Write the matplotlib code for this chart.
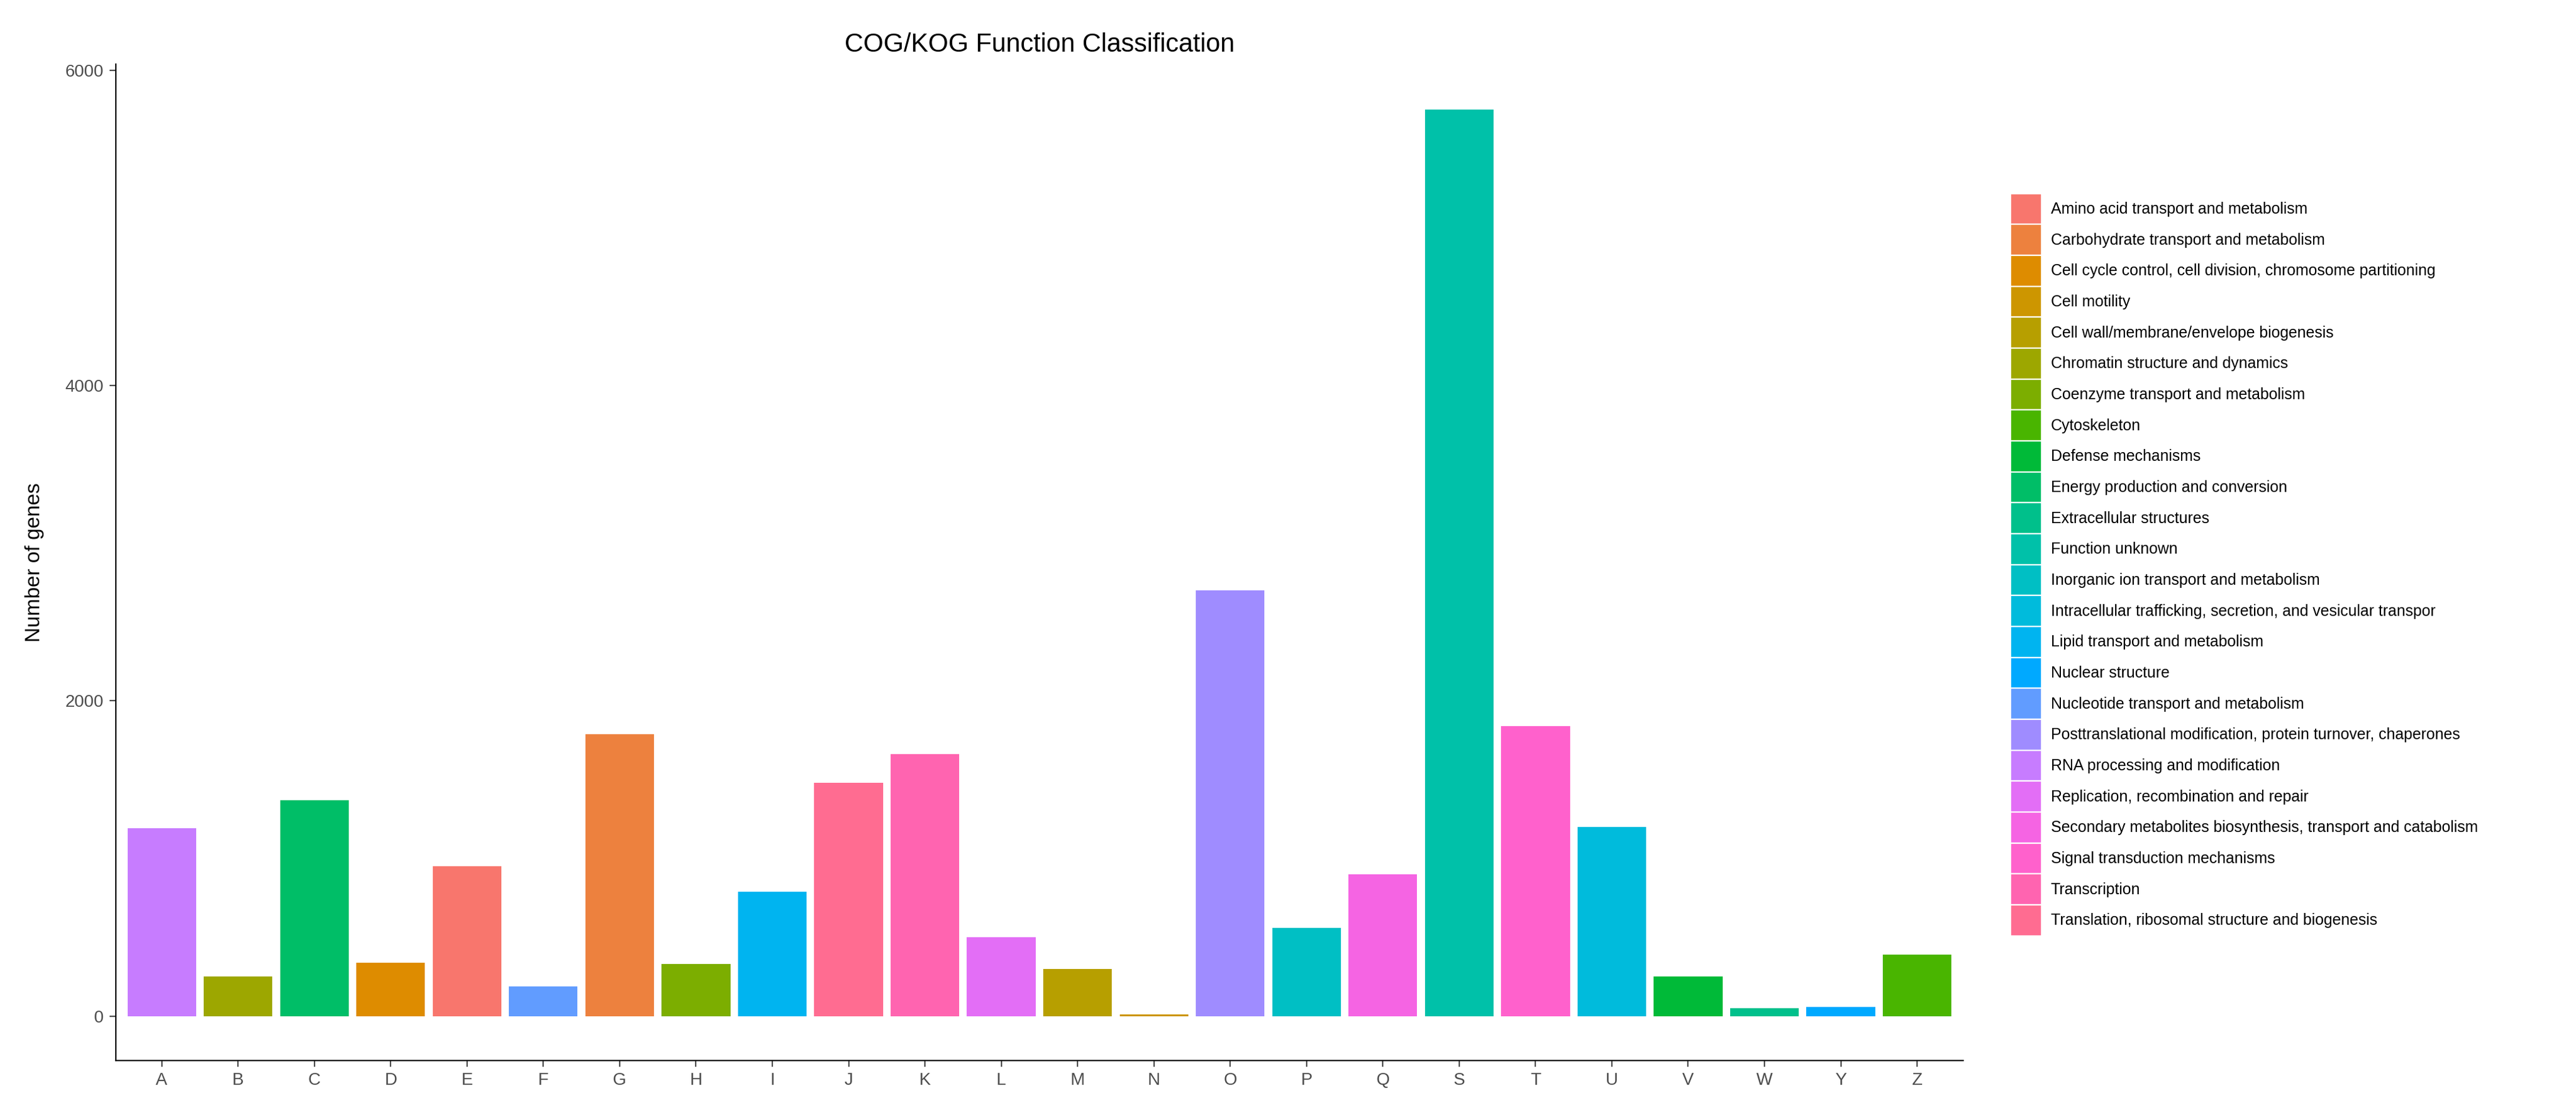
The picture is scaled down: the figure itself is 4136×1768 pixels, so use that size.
import matplotlib
matplotlib.use("Agg")
import matplotlib.pyplot as plt
from matplotlib.patches import Patch
import numpy as np
plt.rcParams['font.family'] = ['Liberation Sans', 'DejaVu Sans']

categories = ["Amino acid transport and metabolism","Carbohydrate transport and metabolism",
"Cell cycle control, cell division, chromosome partitioning","Cell motility",
"Cell wall/membrane/envelope biogenesis","Chromatin structure and dynamics",
"Coenzyme transport and metabolism","Cytoskeleton","Defense mechanisms",
"Energy production and conversion","Extracellular structures","Function unknown",
"Inorganic ion transport and metabolism","Intracellular trafficking, secretion, and vesicular transpor",
"Lipid transport and metabolism","Nuclear structure","Nucleotide transport and metabolism",
"Posttranslational modification, protein turnover, chaperones","RNA processing and modification",
"Replication, recombination and repair","Secondary metabolites biosynthesis, transport and catabolism",
"Signal transduction mechanisms","Transcription","Translation, ribosomal structure and biogenesis"]
letters = ["A","B","C","D","E","F","G","H","I","J","K","L","M","N","O","P","Q","S","T","U","V","W","Y","Z"]
letter_cat = [18,5,9,2,0,16,1,6,14,23,22,19,4,3,17,12,20,11,21,13,8,10,15,7]
values = [1190,250,1370,340,950,190,1790,330,790,1480,1660,500,300,10,2700,560,900,5750,1840,1200,250,50,60,390]

def hcl(h, c=100, l=65):
    hr = np.radians(h)
    u, v = c*np.cos(hr), c*np.sin(hr)
    un, vn = 0.19783, 0.46832
    Y = ((l+16)/116)**3 if l > 8 else l/903.3
    up = u/(13*l)+un; vp = v/(13*l)+vn
    X = Y*9*up/(4*vp); Z = Y*(12-3*up-20*vp)/(4*vp)
    M = np.array([[3.2406,-1.5372,-0.4986],[-0.9689,1.8758,0.0415],[0.0557,-0.2040,1.0570]])
    rgb = M @ np.array([X,Y,Z])
    rgb = np.where(rgb <= 0.0031308, 12.92*rgb, 1.055*np.clip(rgb,0,None)**(1/2.4)-0.055)
    return tuple(np.clip(rgb,0,1))

n = len(categories)
colors = [hcl(15 + 360*i/n) for i in range(n)]

fig = plt.figure(figsize=(20.68, 8.84), dpi=200)
ax = fig.add_axes([0.045, 0.037, 0.717, 0.905])
x = np.arange(len(letters))
ax.bar(x, values, width=0.9, color=[colors[i] for i in letter_cat])
ax.set_xticks(x); ax.set_xticklabels(letters)
ax.set_yticks([0,2000,4000,6000])
ax.set_xlim(-0.6, len(letters)-0.4)
ax.set_ylim(-280, 6040)
for s in ['top','right']: ax.spines[s].set_visible(False)
ax.tick_params(labelsize=10, colors='#4d4d4d', labelcolor='#4d4d4d')
ax.set_ylabel("Number of genes", fontsize=12, labelpad=12)
ax.set_title("COG/KOG Function Classification", fontsize=15, pad=7)
handles = [Patch(facecolor=colors[i], edgecolor='white', linewidth=0.8) for i in range(n)]
fig.legend(handles, categories, loc='upper left', bbox_to_anchor=(0.778, 0.83), frameon=False,
           fontsize=9, labelspacing=0, handlelength=2.0, handleheight=2.68, handletextpad=0.6, borderaxespad=0)
fig.savefig("out.png", dpi=200)
